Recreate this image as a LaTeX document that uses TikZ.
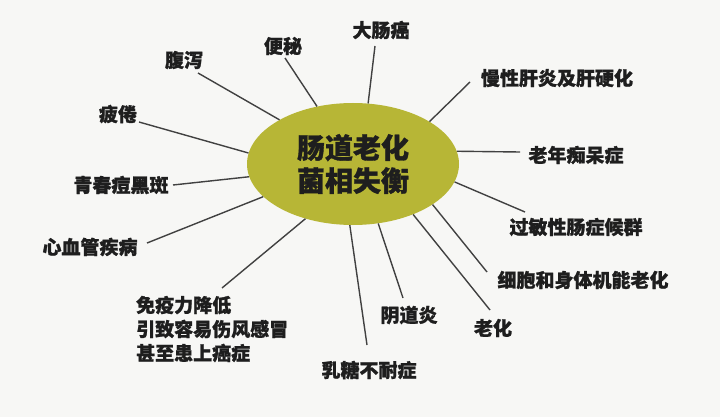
\documentclass[tikz,border=0pt]{standalone}
\usepackage{fontspec}
\setmainfont{Noto Sans CJK SC}[BoldFeatures={FakeBold=1.2}]
\usetikzlibrary{shapes.geometric}
\definecolor{bgcol}{RGB}{247,247,245}
\definecolor{olive}{RGB}{183,182,54}
\definecolor{txt}{RGB}{30,30,30}
\definecolor{ln}{RGB}{65,65,65}
\tikzset{
  lbl/.style={font=\fontsize{19}{24}\selectfont\bfseries, text=txt, inner sep=0pt},
  conn/.style={draw=ln, line width=1.4pt},
  hub/.style={ellipse, fill=olive, minimum width=212pt, minimum height=122pt, inner sep=0pt,
    font=\fontsize{28}{33}\selectfont\bfseries, text=txt, align=center}
}
\begin{document}
\begin{tikzpicture}[x=1pt,y=-1pt]
\fill[bgcol] (0,0) rectangle (720,417);
\useasboundingbox (0,0) rectangle (720,417);
% labels
\node[lbl] (l1) at (381,30) {大肠癌};
\node[lbl] (l2) at (283,46) {便秘};
\node[lbl] (l3) at (184,60) {腹泻};
\node[lbl] (l4) at (118,114) {疲倦};
\node[lbl] (l5) at (121,185) {青春痘黑斑};
\node[lbl] (l6) at (90,247) {心血管疾病};
\node[lbl, anchor=west, align=left] (l7) at (136,329) {免疫力降低\\引致容易伤风感冒\\甚至患上癌症};
\node[lbl] (l8) at (369,370) {乳糖不耐症};
\node[lbl] (l9) at (409,315) {阴道炎};
\node[lbl] (l10) at (493,328) {老化};
\node[lbl] (l11) at (583,280) {细胞和身体机能老化};
\node[lbl] (l12) at (576,227) {过敏性肠症候群};
\node[lbl] (l13) at (576,155) {老年痴呆症};
\node[lbl] (l14) at (557,78) {慢性肝炎及肝硬化};
% outer line ends
\coordinate (p1) at (375,46);
\coordinate (p2) at (285,58);
\coordinate (p3) at (198,73);
\coordinate (p4) at (139,122);
\coordinate (p5) at (173,185);
\coordinate (p6) at (147,243);
\coordinate (p7) at (222,288);
\coordinate (p8) at (367,345);
\coordinate (p9) at (403,298);
\coordinate (p10) at (490,310);
\coordinate (p11) at (487,272);
\coordinate (p12) at (525,212);
\coordinate (p13) at (520,152);
\coordinate (p14) at (470,82);
% hub
\node[hub] (c) at (353,164) {肠道老化\\菌相失衡};
% connectors
\draw[conn] (p1) -- (c.76);
\draw[conn] (p2) -- (c.122);
\draw[conn] (p3) -- (c.149);
\draw[conn] (p4) -- (c.174);
\draw[conn] (p5) -- (c.187);
\draw[conn] (p6) -- (c.200);
\draw[conn] (p7) -- (c.229);
\draw[conn] (p8) -- (c.267);
\draw[conn] (p9) -- (c.293);
\draw[conn] (p10) -- (c.320);
\draw[conn] (p11) -- (c.333);
\draw[conn] (p12) -- (c.350);
\draw[conn] (p13) -- (c.7);
\draw[conn] (p14) -- (c.29);
\end{tikzpicture}
\end{document}
